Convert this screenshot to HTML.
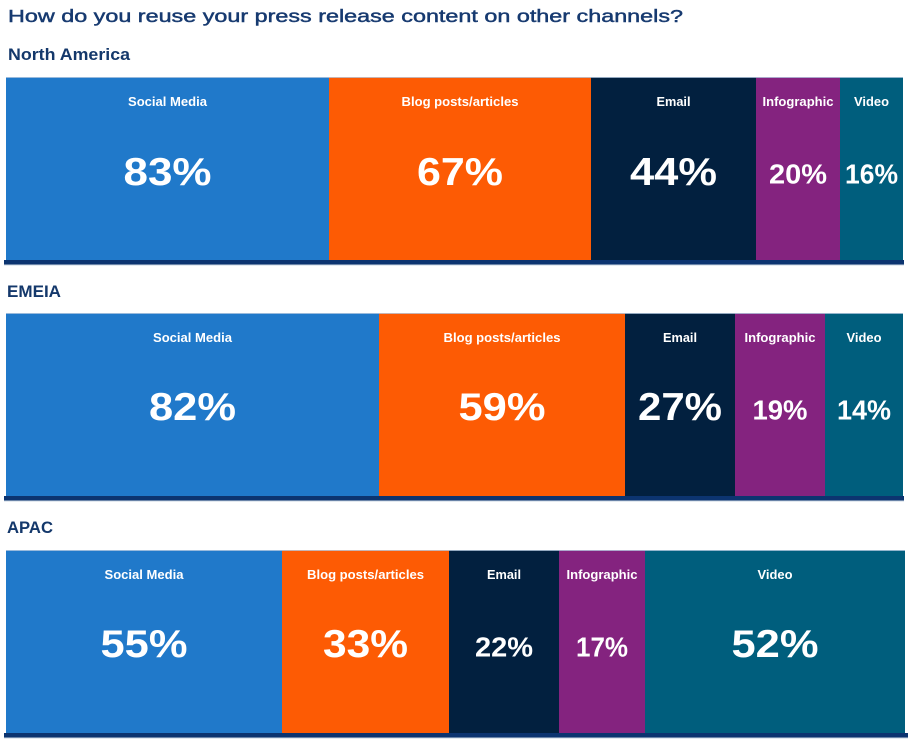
<!DOCTYPE html>
<html>
<head>
<meta charset="utf-8">
<style>
  html,body{margin:0;padding:0;background:#ffffff;}
  svg{display:block;}
  text{font-family:"Liberation Sans",Arial,sans-serif;}
</style>
</head>
<body>
<svg width="912" height="743" viewBox="0 0 912 743" xmlns="http://www.w3.org/2000/svg">
  <rect x="0" y="0" width="912" height="743" fill="#ffffff"/>

  <!-- Title -->
  <text x="8" y="22" font-size="17.5" fill="#173a70" stroke="#173a70" stroke-width="0.45" textLength="675" lengthAdjust="spacingAndGlyphs">How do you reuse your press release content on other channels?</text>

  <!-- Section headings -->
  <text x="8" y="60" font-size="16.5" font-weight="bold" fill="#14386b" textLength="122" lengthAdjust="spacingAndGlyphs">North America</text>
  <text x="7" y="297" font-size="16.5" font-weight="bold" fill="#14386b" textLength="54" lengthAdjust="spacingAndGlyphs">EMEIA</text>
  <text x="7" y="533" font-size="16.5" font-weight="bold" fill="#14386b" textLength="46" lengthAdjust="spacingAndGlyphs">APAC</text>

  <!-- ============ Section 1: North America (top 77) ============ -->
  <g>
    <rect x="6" y="77" width="323" height="183" fill="#2079CA"/>
    <rect x="329" y="77" width="262" height="183" fill="#FD5B04"/>
    <rect x="591" y="77" width="165" height="183" fill="#02203F"/>
    <rect x="756" y="77" width="84" height="183" fill="#84237F"/>
    <rect x="840" y="77" width="63" height="183" fill="#005E7D"/>
    <rect x="6" y="77" width="897" height="1" fill="#b8cbe0" opacity="0.8"/>
    <rect x="4" y="260" width="900" height="4.5" fill="#0c3470"/>
    <rect x="4" y="264.5" width="900" height="1" fill="#c9d4e0"/>

    <g fill="#ffffff" font-weight="bold" text-anchor="middle">
      <text x="167.5" y="106" font-size="13" textLength="79" lengthAdjust="spacingAndGlyphs">Social Media</text>
      <text x="460" y="106" font-size="13" textLength="117" lengthAdjust="spacingAndGlyphs">Blog posts/articles</text>
      <text x="673.5" y="106" font-size="13" textLength="34" lengthAdjust="spacingAndGlyphs">Email</text>
      <text x="798" y="106" font-size="13" textLength="71" lengthAdjust="spacingAndGlyphs">Infographic</text>
      <text x="871.5" y="106" font-size="13" textLength="35" lengthAdjust="spacingAndGlyphs">Video</text>

      <text x="167.5" y="185" font-size="39" textLength="88" lengthAdjust="spacingAndGlyphs">83%</text>
      <text x="460" y="185" font-size="39" textLength="86" lengthAdjust="spacingAndGlyphs">67%</text>
      <text x="673.5" y="185" font-size="39" textLength="87" lengthAdjust="spacingAndGlyphs">44%</text>
      <text x="798" y="183.5" font-size="27.5" textLength="58" lengthAdjust="spacingAndGlyphs">20%</text>
      <text x="871.5" y="183.5" font-size="27.5" textLength="53" lengthAdjust="spacingAndGlyphs">16%</text>
    </g>
  </g>

  <!-- ============ Section 2: EMEIA (top 313) ============ -->
  <g>
    <rect x="6" y="313" width="373" height="183" fill="#2079CA"/>
    <rect x="379" y="313" width="246" height="183" fill="#FD5B04"/>
    <rect x="625" y="313" width="110" height="183" fill="#02203F"/>
    <rect x="735" y="313" width="90" height="183" fill="#84237F"/>
    <rect x="825" y="313" width="78" height="183" fill="#005E7D"/>
    <rect x="6" y="313" width="897" height="1" fill="#b8cbe0" opacity="0.8"/>
    <rect x="4" y="496" width="900" height="4.5" fill="#0c3470"/>
    <rect x="4" y="500.5" width="900" height="1" fill="#c9d4e0"/>

    <g fill="#ffffff" font-weight="bold" text-anchor="middle">
      <text x="192.5" y="342" font-size="13" textLength="79" lengthAdjust="spacingAndGlyphs">Social Media</text>
      <text x="502" y="342" font-size="13" textLength="117" lengthAdjust="spacingAndGlyphs">Blog posts/articles</text>
      <text x="680" y="342" font-size="13" textLength="34" lengthAdjust="spacingAndGlyphs">Email</text>
      <text x="780" y="342" font-size="13" textLength="71" lengthAdjust="spacingAndGlyphs">Infographic</text>
      <text x="864" y="342" font-size="13" textLength="35" lengthAdjust="spacingAndGlyphs">Video</text>

      <text x="192.5" y="420" font-size="39" textLength="87" lengthAdjust="spacingAndGlyphs">82%</text>
      <text x="502" y="420" font-size="39" textLength="87" lengthAdjust="spacingAndGlyphs">59%</text>
      <text x="680" y="420" font-size="39" textLength="84" lengthAdjust="spacingAndGlyphs">27%</text>
      <text x="780" y="419.5" font-size="27.5" textLength="55" lengthAdjust="spacingAndGlyphs">19%</text>
      <text x="864" y="419.5" font-size="27.5" textLength="54" lengthAdjust="spacingAndGlyphs">14%</text>
    </g>
  </g>

  <!-- ============ Section 3: APAC (top 550) ============ -->
  <g>
    <rect x="6" y="550" width="276" height="183" fill="#2079CA"/>
    <rect x="282" y="550" width="167" height="183" fill="#FD5B04"/>
    <rect x="449" y="550" width="110" height="183" fill="#02203F"/>
    <rect x="559" y="550" width="86" height="183" fill="#84237F"/>
    <rect x="645" y="550" width="260" height="183" fill="#005E7D"/>
    <rect x="6" y="550" width="899" height="1" fill="#b8cbe0" opacity="0.8"/>
    <rect x="4" y="733" width="904" height="4.5" fill="#0c3470"/>
    <rect x="4" y="737.5" width="904" height="1" fill="#c9d4e0"/>

    <g fill="#ffffff" font-weight="bold" text-anchor="middle">
      <text x="144" y="579" font-size="13" textLength="79" lengthAdjust="spacingAndGlyphs">Social Media</text>
      <text x="365.5" y="579" font-size="13" textLength="117" lengthAdjust="spacingAndGlyphs">Blog posts/articles</text>
      <text x="504" y="579" font-size="13" textLength="34" lengthAdjust="spacingAndGlyphs">Email</text>
      <text x="602" y="579" font-size="13" textLength="71" lengthAdjust="spacingAndGlyphs">Infographic</text>
      <text x="775" y="579" font-size="13" textLength="35" lengthAdjust="spacingAndGlyphs">Video</text>

      <text x="144" y="657" font-size="39" textLength="87" lengthAdjust="spacingAndGlyphs">55%</text>
      <text x="365.5" y="657" font-size="39" textLength="85" lengthAdjust="spacingAndGlyphs">33%</text>
      <text x="504" y="656.5" font-size="27.5" textLength="58" lengthAdjust="spacingAndGlyphs">22%</text>
      <text x="602" y="656.5" font-size="27.5" textLength="52" lengthAdjust="spacingAndGlyphs">17%</text>
      <text x="775" y="657" font-size="39" textLength="87" lengthAdjust="spacingAndGlyphs">52%</text>
    </g>
  </g>
</svg>
</body>
</html>
